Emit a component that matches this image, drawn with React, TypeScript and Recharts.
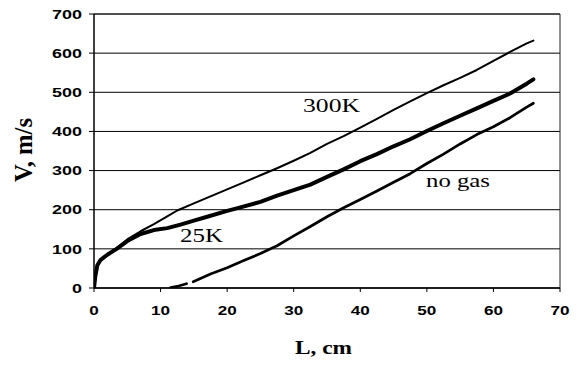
import React from 'react';
import { LineChart, Line, XAxis, YAxis, CartesianGrid, ReferenceLine } from 'recharts';

// ---- data ----
const xTicks = [0, 10, 20, 30, 40, 50, 60, 70];
const yTicks = [0, 100, 200, 300, 400, 500, 600, 700];

const L_300K = [0, 0.2, 0.5, 1, 2, 3.4, 5, 7, 9, 11, 12.5, 15, 17.5, 20, 22.5, 25, 27.5, 30, 32.5, 35, 37.5, 40, 42.5, 45, 47.5, 50, 52.5, 55, 57.5, 60, 62.5, 65, 66];
const V_300K = [0, 30, 58, 72, 86, 102, 124, 145, 163, 183, 198, 216, 234, 252, 270, 288, 306, 325, 345, 368, 388, 410, 432, 455, 477, 498, 518, 537, 557, 580, 603, 625, 632];

const L_25K = [0, 0.2, 0.5, 1, 2, 3.4, 5, 7, 9, 11, 13, 15, 17, 20, 22, 25, 27.5, 30, 32.5, 35, 37.5, 40, 42.5, 45, 47.5, 50, 52.5, 55, 57.5, 60, 62.5, 65, 66];
const V_25K = [0, 30, 58, 72, 85, 100, 120, 138, 148, 153, 162, 172, 182, 197, 206, 220, 236, 250, 264, 284, 303, 324, 342, 362, 380, 401, 421, 440, 459, 478, 497, 522, 533];

const L_noGasA = [11.5, 12.7, 13.9];
const V_noGasA = [1, 5, 11];
const L_noGasB = [14.9, 17.5, 20, 22.5, 25, 27.5, 30, 32.5, 35, 37.5, 40, 42.5, 45, 47.5, 50, 52.5, 55, 57.5, 60, 62.5, 65, 66];
const V_noGasB = [16, 36, 52, 70, 88, 108, 133, 157, 182, 205, 226, 248, 270, 292, 318, 342, 368, 392, 412, 435, 462, 472];

const toRows = (ls: number[], vs: number[]) => ls.map((l, i) => ({ L: l, V: vs[i] }));

const d300K = toRows(L_300K, V_300K);
const d25K = toRows(L_25K, V_25K);
const dNoGasA = toRows(L_noGasA, V_noGasA);
const dNoGasB = toRows(L_noGasB, V_noGasB);

const SANS = '"Liberation Sans", Arial, sans-serif';
const SERIF = '"Liberation Serif", "Times New Roman", serif';

const YTick = (props: any) => {
  const { x, y, payload } = props;
  const s = String(payload.value);
  return (
    <text x={x} y={y} dy="0.36em" textAnchor="end" fontFamily={SANS} fontWeight="bold" fontSize={13}
      fill="#000" textLength={s.length * 10} lengthAdjust="spacingAndGlyphs">{s}</text>
  );
};

const XTick = (props: any) => {
  const { x, y, payload } = props;
  const s = String(payload.value);
  return (
    <text x={x} y={y} dy="0.72em" textAnchor="middle" fontFamily={SANS} fontWeight="bold" fontSize={13}
      fill="#000" textLength={s.length * 9.5} lengthAdjust="spacingAndGlyphs">{s}</text>
  );
};

export default function App() {
  return (
    <div style={{ position: 'absolute', left: 0, top: 0, width: 579, height: 365, background: '#fff' }}>
      <LineChart width={579} height={365} margin={{ top: 14, right: 19, bottom: 0, left: 0 }}>
        <CartesianGrid vertical={false} stroke="#000" strokeWidth={1} />
        <XAxis dataKey="L" type="number" domain={[0, 70]} ticks={xTicks} allowDataOverflow
          height={77} tickSize={4} tickMargin={14} tick={<XTick />}
          axisLine={{ stroke: '#000', strokeWidth: 1.5 }} tickLine={{ stroke: '#000' }} />
        <YAxis dataKey="V" type="number" domain={[0, 700]} ticks={yTicks} allowDataOverflow
          width={94} tickSize={5} tickMargin={7} tick={<YTick />}
          axisLine={{ stroke: '#000', strokeWidth: 1.5 }} tickLine={{ stroke: '#000' }} />
        <ReferenceLine x={70} stroke="#222" strokeWidth={1} />
        <ReferenceLine y={700} stroke="#222" strokeWidth={1} />
        <Line data={d300K} dataKey="V" type="linear" stroke="#000" strokeWidth={2} dot={false}
          isAnimationActive={false} strokeLinejoin="round" strokeLinecap="round" />
        <Line data={d25K} dataKey="V" type="linear" stroke="#000" strokeWidth={4} dot={false}
          isAnimationActive={false} strokeLinejoin="round" strokeLinecap="round" />
        <Line data={dNoGasA} dataKey="V" type="linear" stroke="#000" strokeWidth={2.7} dot={false}
          isAnimationActive={false} strokeLinejoin="round" strokeLinecap="round" />
        <Line data={dNoGasB} dataKey="V" type="linear" stroke="#000" strokeWidth={2.7} dot={false}
          isAnimationActive={false} strokeLinejoin="round" strokeLinecap="round" />
        <text x={303} y={112} fontFamily={SERIF} fontSize={18} fill="#000"
          textLength={57} lengthAdjust="spacingAndGlyphs">300K</text>
        <text x={180} y={242} fontFamily={SERIF} fontSize={18} fill="#000"
          textLength={43} lengthAdjust="spacingAndGlyphs">25K</text>
        <text x={426} y={187} fontFamily={SERIF} fontSize={18} fill="#000"
          textLength={64} lengthAdjust="spacingAndGlyphs">no gas</text>
        <text x={295} y={354} fontFamily={SERIF} fontSize={18} fontWeight="bold" fill="#000"
          textLength={57} lengthAdjust="spacingAndGlyphs">L, cm</text>
        <text transform="translate(32,150) scale(1.3,1) rotate(-90)" x={0} y={0} textAnchor="middle"
          fontFamily={SERIF} fontSize={20} fontWeight="bold" fill="#000"
          textLength={64} lengthAdjust="spacingAndGlyphs">V, m/s</text>
      </LineChart>
    </div>
  );
}
